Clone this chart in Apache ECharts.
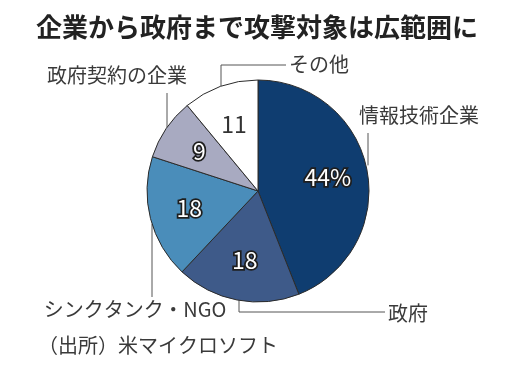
<!DOCTYPE html>
<html>
<head>
<meta charset="utf-8">
<script src="https://cdn.jsdelivr.net/npm/echarts@6/dist/echarts.min.js"></script>
<style>
html,body{margin:0;padding:0;background:#fff;}
#c{width:514px;height:372px;}
</style>
</head>
<body>
<div id="c"></div>
<script>
// ---- data ----
const titleText = '企業から政府まで攻撃対象は広範囲に';
const sourceText = '（出所）米マイクロソフト';
const categories = ['情報技術企業', '政府', 'シンクタンク・NGO', '政府契約の企業', 'その他'];
const values = [44, 18, 18, 9, 11];
const valueLabels = ['44%', '18', '18', '9', '11'];

// ---- style ----
const colors = ['#0f3d70', '#3e5a89', '#4a8dba', '#a8aac1', '#ffffff'];
const FONT = '"Noto Sans CJK JP", "Noto Sans", sans-serif';
const cx = 258, cy = 191, R = 111;

function edgeY(dx, sign) { return cy + sign * Math.sqrt(R * R - dx * dx); }

// leader-line / label geometry relative to pie centre
const geo = [
  { x: cx + 101, y: cy - 76, align: 'left',
    pts: [[cx + 110, edgeY(108, -1)], [cx + 110, cy - 58]] },
  { x: cx + 130, y: cy + 122, align: 'left',
    pts: [[cx - 19, edgeY(19, 1)], [cx - 19, cy + 121], [cx + 127, cy + 121]] },
  { x: cx - 123, y: cy + 118, align: 'center',
    pts: [[cx - 106, edgeY(106, 1)], [cx - 106, cy + 106]] },
  { x: cx - 141, y: cy - 116, align: 'center',
    pts: [[cx - 91, edgeY(91, -1)], [cx - 91, cy - 98]] },
  { x: cx + 31, y: cy - 127, align: 'left',
    pts: [[cx - 37, edgeY(37, -1)], [cx - 37, cy - 126], [cx + 28, cy - 126]] }
];

const chart = echarts.init(document.getElementById('c'), null, { renderer: 'canvas' });

const mainData = categories.map((n, i) => ({
  name: n, value: values[i], itemStyle: { color: colors[i] }
}));
const innerData = categories.map((n, i) => ({
  name: n, value: values[i],
  label: i === 4
    ? { color: '#333', textBorderWidth: 0 }
    : { color: '#fff', textBorderColor: '#1e1e1e', textBorderWidth: 3.5 }
}));

chart.setOption({
  animation: false,
  backgroundColor: '#fff',
  title: {
    text: titleText,
    left: 'center',
    top: 9,
    textStyle: { fontFamily: FONT, fontSize: 26, fontWeight: 'bold', color: '#222' }
  },
  graphic: [{
    type: 'text',
    left: 38,
    top: 335,
    style: { text: sourceText, font: '20px ' + FONT, fill: '#3a3a3a' }
  }],
  series: [
    {
      type: 'pie',
      center: [cx, cy],
      radius: R,
      startAngle: 90,
      clockwise: true,
      avoidLabelOverlap: false,
      silent: true,
      itemStyle: { borderColor: '#2b2b2b', borderWidth: 1 },
      label: {
        show: true,
        position: 'outside',
        formatter: '{b}',
        fontFamily: FONT,
        fontSize: 20,
        color: '#3a3a3a'
      },
      labelLine: { show: true, smooth: false, lineStyle: { color: '#555', width: 1 } },
      labelLayout: function (p) {
        const g = geo[p.dataIndex];
        return { x: g.x, y: g.y, align: g.align, verticalAlign: 'middle', labelLinePoints: g.pts };
      },
      data: mainData
    },
    {
      type: 'pie',
      center: [cx, cy],
      radius: 136,
      startAngle: 90,
      clockwise: true,
      silent: true,
      itemStyle: { color: 'rgba(0,0,0,0)' },
      label: {
        show: true,
        position: 'inside',
        formatter: function (p) { return valueLabels[p.dataIndex]; },
        fontFamily: FONT,
        fontSize: 23
      },
      labelLine: { show: false },
      data: innerData
    }
  ]
});
</script>
</body>
</html>
